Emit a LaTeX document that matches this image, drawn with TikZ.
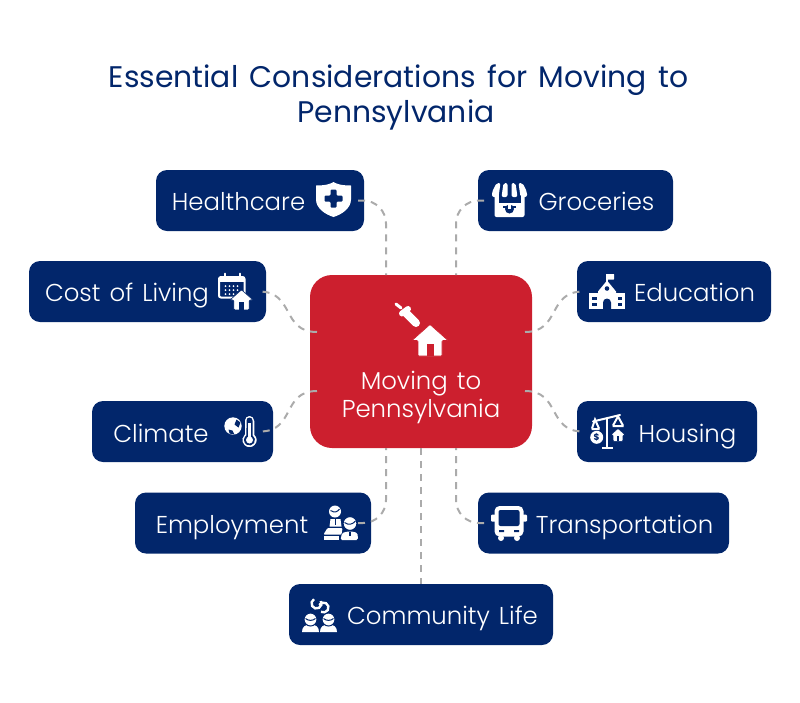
\documentclass[tikz,border=0pt]{standalone}
\usepackage{tikz,color}
\usepackage{fontspec}
\setmainfont{Poppins}[WordSpace=1.45]
\newfontfamily\labelfont{Poppins}[UprightFont=* Light, WordSpace=1.35]
\definecolor{navyblue}{HTML}{02266B}
\definecolor{boxred}{HTML}{CC1F2E}
\definecolor{linkgray}{HTML}{ABABAB}

\tikzset{
    itembox/.style={fill=navyblue, rounded corners=11pt, minimum height=61pt, inner sep=0pt, outer sep=0pt},
    itemtext/.style={text=white, font=\labelfont\fontsize{24.4}{24.4}\selectfont, anchor=base, inner sep=0pt},
    titletext/.style={text=navyblue, font=\fontsize{29.8}{29.8}\selectfont, anchor=base, inner sep=0pt},
    link/.style={draw=linkgray, line width=2pt, dash pattern=on 7pt off 6pt},
    pics/houseicon/.style={code={
        \filldraw[white, draw=#1, line width=0.6pt, rounded corners=1pt] (0,-16) -- (18,0) -- (12,0) -- (12,15.5) -- (-12,15.5) -- (-12,0) -- (-18,0) -- cycle;
        \fill[#1] (-3.5,3.5) rectangle (3.5,15.5);
    }},
    pics/shieldicon/.style={code={
        \fill[white] (-17.5,-14) .. controls (-8,-14) and (-3,-15.5) .. (0,-17.5) .. controls (3,-15.5) and (8,-14) .. (17.5,-14) -- (17.5,0) .. controls (17.5,9) and (8,15) .. (0,17.5) .. controls (-8,15) and (-17.5,9) .. (-17.5,0) -- cycle;
        \fill[navyblue, rounded corners=1pt] (-3,-10) -- (3,-10) -- (3,-4) -- (9,-4) -- (9,2) -- (3,2) -- (3,8) -- (-3,8) -- (-3,2) -- (-9,2) -- (-9,-4) -- (-3,-4) -- cycle;
    }},
    pics/shopicon/.style={code={
        \fill[white, rounded corners=2pt] (-15,-8) rectangle (15,17);
        \fill[navyblue] (-11,-8) rectangle (11,3);
        \fill[white, rounded corners=2pt] (-13,-17) -- (-9,-17) -- (-11,-3) -- (-17.5,-3) -- (-17.5,-8) -- cycle;
        \fill[white, rounded corners=2pt] (-6,-17) -- (-2,-17) -- (-2,-3) -- (-8,-3) -- cycle;
        \fill[white, rounded corners=2pt] (2,-17) -- (6,-17) -- (8,-3) -- (2,-3) -- cycle;
        \fill[white, rounded corners=2pt] (9,-17) -- (13,-17) -- (17.5,-8) -- (17.5,-3) -- (11,-3) -- cycle;
        \fill[navyblue] (0,9) circle (4.5);
        \fill[navyblue] (-6.5,5.5) rectangle (6.5,7.5);
        \fill[white] (-1.5,4) rectangle (1.5,8.5);
    }},
    pics/calendaricon/.style={code={
        \draw[white, line width=2pt, rounded corners=2pt] (-16.5,-14) rectangle (9,6.5);
        \fill[white] (-16.5,-14) rectangle (9,-9);
        \draw[white, line width=2pt, line cap=round] (-11,-17.5) -- (-11,-12.5) (4,-17.5) -- (4,-12.5);
        \foreach \col in {-10,-6,-2,2} \foreach \row in {-5,-1,3}
            \fill[white] (\col,\row) circle (1);
        \pic at (6,9) [scale=0.64] {houseicon=navyblue};
    }},
    pics/schoolicon/.style={code={
        \fill[white] (-18,1) rectangle (18,17.5);
        \fill[white] (-9,5) -- (-9,0) -- (0,-11) -- (9,0) -- (9,5) -- cycle;
        \draw[white, line width=1.5pt] (0,-8) -- (0,-17.5);
        \fill[white, rounded corners=0.5pt] (0,-17.5) rectangle (7,-12);
        \fill[navyblue] (0,-3) circle (2.3);
        \fill[navyblue] (-4,17.5) -- (-4,11) arc (180:360:4) -- (4,17.5) -- cycle;
        \foreach \col in {-15,10.5} \foreach \row in {5,11}
            \fill[navyblue] (\col,\row) rectangle +(4.5,3);
    }},
    pics/climateicon/.style={code={
        \fill[white] (-8.5,-5.5) circle (8.7);
        \fill[navyblue] (-5,-12) -- (-1,-9) -- (-3,-4) -- (-7,-7) -- cycle;
        \fill[navyblue] (-13,-2) -- (-9,-1) -- (-7,3) -- (-12,2) -- cycle;
        \filldraw[white, draw=navyblue, line width=1.5pt] (2.5,-11) arc (180:360:5.5) -- (13.5,2.7) arc (-46.6:226.6:8) -- cycle;
        \fill[navyblue] (5,-11) arc (180:360:3) -- (11,3.9) arc (-56.9:236.9:5.5) -- cycle;
        \fill[white] (8,8.5) circle (3.5);
        \fill[white] (6.8,-9) rectangle (9.2,8);
    }},
    pics/scaleicon/.style={code={
        \draw[white, line width=2.5pt] (0,-14) -- (0,16.5) (-5,16.5) -- (6,16.5);
        \draw[white, line width=2pt, line cap=round] (-14,-10) -- (13,-16.5);
        \draw[white, line width=2pt] (-15,-3) -- (-12,-12) -- (-8,-3) (6,-6) -- (11,-15) -- (16,-6);
        \fill[white] (-15.5,-3.5) rectangle (-7.5,-1.5) (5.5,-6.5) rectangle (16.5,-4.5);
        \fill[white] (-10.3,5.8) circle (6.5);
        \node[text=navyblue, font=\fontsize{9}{9}\selectfont\bfseries, inner sep=0pt] (coinmark) at (-10.3,5.8) {\$};
        \pic at (11,3.5) [scale=0.41] {houseicon=navyblue};
    }},
    pics/workersicon/.style={code={
        \fill[white] (-5.5,-12) circle (6);
        \draw[navyblue, line width=1pt] (-10,-13) .. controls (-6,-10.5) and (-3,-11.5) .. (-1,-14.5);
        \fill[white] (-11,3) -- (-10,-4.5) -- (0,-4.5) -- (1,3) -- cycle;
        \fill[navyblue] (-6,-4.5) -- (-4.5,-4.5) -- (-4.5,1) -- (-6,1) -- cycle;
        \fill[white, rounded corners=1pt] (-13,4.5) -- (2,4.5) -- (1,11) -- (-17,11) -- cycle;
        \fill[white] (-17,12.5) rectangle (-2,16.5);
        \filldraw[white, draw=navyblue, line width=1.2pt] (9.5,0) circle (7);
        \draw[navyblue, line width=1pt] (4,-1) .. controls (8,2) and (12,1) .. (15,-2.5);
        \fill[white, rounded corners=1.5pt] (0,16.5) -- (1.5,9.5) -- (7,8) -- (12,8) -- (17,9.5) -- (17.5,16.5) -- cycle;
        \fill[navyblue] (8.5,8) rectangle (10.5,12);
    }},
    pics/busicon/.style={code={
        \fill[white, rounded corners=5pt] (-14.5,-17.5) rectangle (14.5,13);
        \fill[navyblue, rounded corners=2pt] (-10.5,-13.5) rectangle (10.5,2.5);
        \fill[white, rounded corners=1pt] (-18,-9) rectangle (-13,-2) (13,-9) rectangle (18,-2);
        \fill[navyblue] (-10,6.5) rectangle (-5,8.5) (5,6.5) rectangle (10,8.5);
        \fill[white] (-8,14.5) circle (3) (8,14.5) circle (3);
    }},
    pics/communityicon/.style={code={
        \draw[white, line width=2.4pt] (-3,-11) ++(-30:5) arc (-30:240:5);
        \draw[white, line width=2.4pt] (4,-7) ++(210:5) arc (210:480:5);
        \foreach \col in {-9,9} {
            \fill[white] (\col-8.5,17.5) .. controls (\col-8.5,12) and (\col-5,10) .. (\col,10) .. controls (\col+5,10) and (\col+8.5,12) .. (\col+8.5,17.5) -- cycle;
            \filldraw[white, draw=navyblue, line width=1pt] (\col,5) circle (6.5);
            \draw[navyblue, line width=1pt] (\col-5,4) .. controls (\col-2,6.5) and (\col+2,6.5) .. (\col+5,4);
        }
    }},
    pics/brushicon/.style={code={
        \draw[white, line width=3pt, line cap=round] (-9,-11) -- (-4,-7);
        \draw[white, line width=6pt, line cap=round] (-3,-1.5) -- (3,-6);
        \draw[white, line width=8pt, line cap=round] (1,-2) -- (11,8);
    }}
}

\begin{document}
\begin{tikzpicture}[x=1pt, y=-1pt]
    \useasboundingbox (0,0) rectangle (800,702);

    \node[titletext] (titletop) at (398.5,87) {Essential Considerations for Moving to};
    \node[titletext] (titlebottom) at (396,122) {Pennsylvania};

    \node[fill=boxred, rounded corners=22pt, minimum width=222pt, minimum height=173pt, inner sep=0pt, outer sep=0pt] (centre) at (421,361.5) {};

    \node[itembox, minimum width=208pt] (healthcare) at (260,200.5) {};
    \node[itembox, minimum width=195pt] (groceries) at (575.5,200.5) {};
    \node[itembox, minimum width=237pt] (costliving) at (147.5,291.5) {};
    \node[itembox, minimum width=194pt] (education) at (674,291.5) {};
    \node[itembox, minimum width=181pt] (climate) at (182.5,431.5) {};
    \node[itembox, minimum width=180pt] (housing) at (667,431.5) {};
    \node[itembox, minimum width=236pt] (employment) at (253,523) {};
    \node[itembox, minimum width=251pt] (transportation) at (603.5,523) {};
    \node[itembox, minimum width=264pt] (community) at (421,614.5) {};

    \draw[link, rounded corners=23pt] ([xshift=-6pt]healthcare.east) -| ([xshift=-35pt]centre.north);
    \draw[link, rounded corners=23pt] ([xshift=6pt]groceries.west) -| ([xshift=35pt]centre.north);
    \draw[link] ([xshift=7pt, yshift=29.5pt]centre.west) to[out=180, in=0, looseness=1.3] ([xshift=-7pt]costliving.east);
    \draw[link] ([xshift=-7pt, yshift=29.5pt]centre.east) to[out=0, in=180, looseness=1.3] ([xshift=6pt]education.west);
    \draw[link] ([xshift=7pt, yshift=-29.5pt]centre.west) to[out=180, in=0, looseness=1.3] ([xshift=-13pt]climate.east);
    \draw[link] ([xshift=-7pt, yshift=-29.5pt]centre.east) to[out=0, in=180, looseness=1.3] ([xshift=6pt]housing.west);
    \draw[link, rounded corners=23pt] ([xshift=-13pt]employment.east) -| ([xshift=-35pt]centre.south);
    \draw[link, rounded corners=23pt] ([xshift=6pt]transportation.west) -| ([xshift=35pt]centre.south);
    \draw[link] (centre.south) -- (community.north);

    \node[itemtext] (healthcaretext) at (238.5,210) {Healthcare};
    \node[itemtext] (groceriestext) at (596.5,210) {Groceries};
    \node[itemtext] (costlivingtext) at (127,301) {Cost of Living};
    \node[itemtext] (educationtext) at (694.5,301) {Education};
    \node[itemtext] (climatetext) at (161,442) {Climate};
    \node[itemtext] (housingtext) at (687.5,442) {Housing};
    \node[itemtext] (employmenttext) at (232,533) {Employment};
    \node[itemtext] (transportationtext) at (624.5,533) {Transportation};
    \node[itemtext] (communitytext) at (442.5,624.5) {Community Life};
    \node[itemtext] (movingtext) at (421,389) {Moving to};
    \node[itemtext] (pennsylvaniatext) at (421,417) {Pennsylvania};

    \pic at (333.5,199.5) {shieldicon};
    \pic at (509.5,200) {shopicon};
    \pic at (235.5,291) {calendaricon};
    \pic at (607,291.5) {schoolicon};
    \pic at (241.5,431.5) {climateicon};
    \pic at (607,431.5) {scaleicon};
    \pic at (340.5,523.5) {workersicon};
    \pic at (509,523.5) {busicon};
    \pic at (319.5,614.5) {communityicon};
    \pic at (405,315) {brushicon};
    \pic at (430,340.5) {houseicon=boxred};
\end{tikzpicture}
\end{document}
